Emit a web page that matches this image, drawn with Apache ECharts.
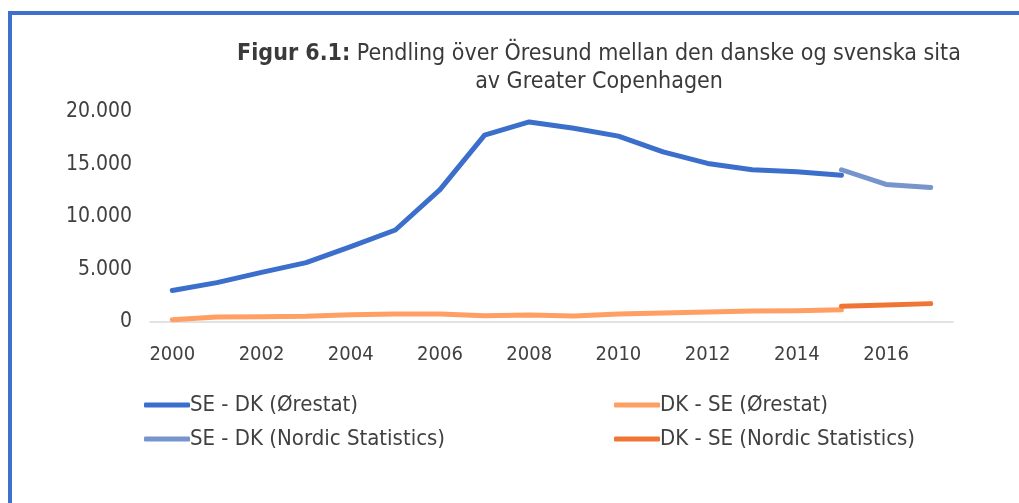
<!DOCTYPE html>
<html>
<head>
<meta charset="utf-8">
<script src="https://cdn.jsdelivr.net/npm/echarts@6/dist/echarts.min.js"></script>
<style>
  html, body { margin: 0; padding: 0; background: #fff; overflow: hidden; }
  #frame {
    position: absolute; left: 8px; top: 11px; width: 1040px; height: 520px;
    border-left: 4px solid #3F70CE; border-top: 4px solid #3F70CE;
  }
  #chart { position: absolute; left: 0; top: 0; width: 1019px; height: 503px; }
</style>
</head>
<body>
<div id="frame"></div>
<div id="chart"></div>
<script>
const years = ['2000', '2001', '2002', '2003', '2004', '2005', '2006', '2007', '2008',
  '2009', '2010', '2011', '2012', '2013', '2014', '2015', '2016', '2017']

// SE -> DK, Øresundsstatistik (Ørestat)
const seDkOrestat = [3000, 3750, 4730, 5650, 7170, 8760, 12600, 17800, 19050,
  18450, 17700, 16200, 15100, 14500, 14300, 13970, null, null]
// DK -> SE, Ørestat
const dkSeOrestat = [220, 480, 510, 540, 700, 760, 760, 600, 670,
  570, 760, 860, 950, 1050, 1080, 1170, null, null]
// Nordic Statistics
const seDkNordic = [null, null, null, null, null, null, null, null, null,
  null, null, null, null, null, null, 14500, 13100, 12800]
const dkSeNordic = [null, null, null, null, null, null, null, null, null,
  null, null, null, null, null, null, 1490, 1620, 1750]

const yTicks = [0, 5000, 10000, 15000, 20000]

const font = '"DejaVu Sans Condensed", "DejaVu Sans", sans-serif'
const textColor = '#404040'

const chart = echarts.init(document.getElementById('chart'))

function mkLine(name, data, color) {
  return {
    name: name,
    type: 'line',
    data: data,
    symbol: 'none',
    connectNulls: false,
    lineStyle: { width: 5, color: color, cap: 'round', join: 'round' },
    itemStyle: { color: color },
    emphasis: { disabled: true },
    animation: false
  }
}

function mkLegend(name, left, top) {
  return {
    data: [name],
    left: left,
    top: top,
    icon: 'roundRect',
    itemWidth: 46,
    itemHeight: 5,
    itemGap: 2,
    textStyle: { fontFamily: font, fontSize: 22, color: textColor, padding: [0, 0, 0, -5] },
    selectedMode: false
  }
}

chart.setOption({
  title: {
    text: '{b|Figur 6.1:} Pendling över Öresund mellan den danske og svenska sita\nav Greater Copenhagen',
    left: 594,
    textAlign: 'center',
    top: 35,
    textStyle: {
      fontFamily: font,
      fontSize: 23,
      fontWeight: 'normal',
      color: '#3a3a3a',
      lineHeight: 28,
      rich: {
        b: { fontFamily: font, fontSize: 23, fontWeight: 'bold', color: '#3a3a3a' }
      }
    }
  },
  legend: [
    mkLegend('SE - DK (Ørestat)', 139, 389),
    mkLegend('DK - SE (Ørestat)', 609, 389),
    mkLegend('SE - DK (Nordic Statistics)', 139, 423),
    mkLegend('DK - SE (Nordic Statistics)', 609, 423)
  ],
  grid: { left: 150, right: 66, top: 112, bottom: 181, containLabel: false },
  xAxis: {
    type: 'category',
    data: years,
    boundaryGap: true,
    axisLine: { lineStyle: { color: '#D9D9D9', width: 1.5 } },
    axisTick: { show: false },
    axisLabel: {
      interval: 1,
      margin: 23,
      fontFamily: font,
      fontSize: 20,
      color: textColor
    },
    splitLine: { show: false }
  },
  yAxis: {
    type: 'value',
    min: yTicks[0],
    max: yTicks[yTicks.length - 1],
    interval: 5000,
    axisLine: { show: false },
    axisTick: { show: false },
    splitLine: { show: false },
    axisLabel: {
      margin: 18,
      fontFamily: font,
      fontSize: 21,
      color: textColor,
      formatter: function (v) {
        return String(v).replace(/\B(?=(\d{3})+(?!\d))/g, '.')
      }
    }
  },
  series: [
    mkLine('SE - DK (Ørestat)', seDkOrestat, '#3B6FCB'),
    mkLine('DK - SE (Ørestat)', dkSeOrestat, '#FF9F64'),
    mkLine('SE - DK (Nordic Statistics)', seDkNordic, '#7595CC'),
    mkLine('DK - SE (Nordic Statistics)', dkSeNordic, '#F07535')
  ]
})
</script>
</body>
</html>
